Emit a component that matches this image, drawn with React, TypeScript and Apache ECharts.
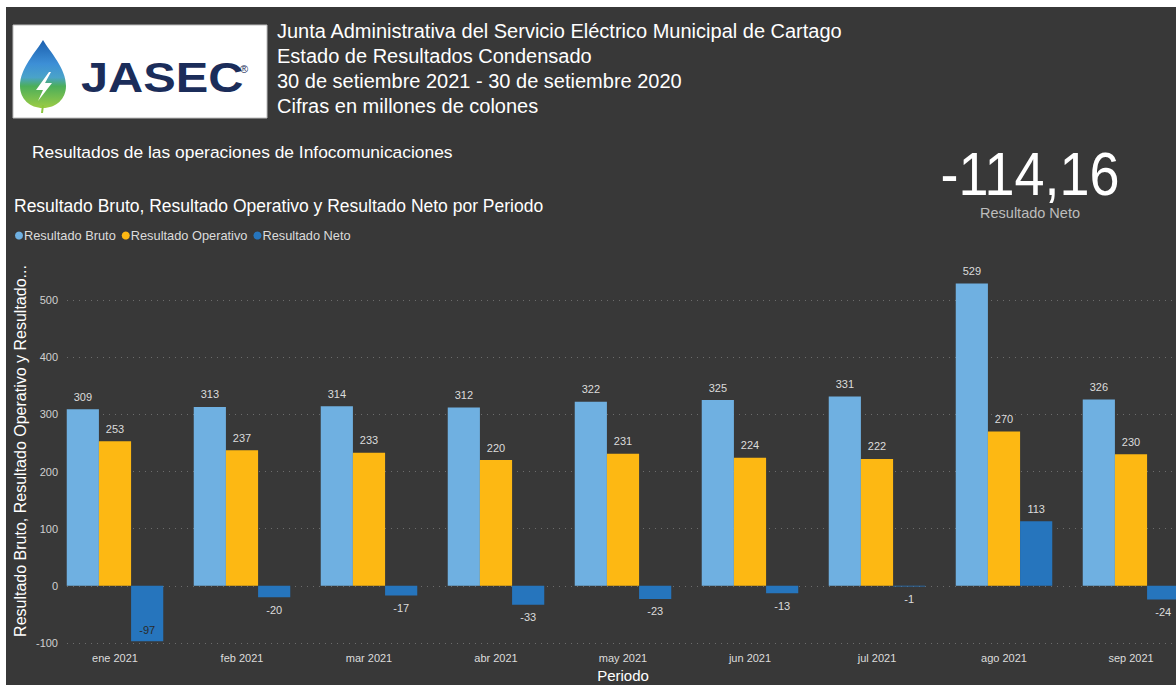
import React, { useEffect, useRef } from "react";
import * as echarts from "echarts";

const categories = ["ene 2021", "feb 2021", "mar 2021", "abr 2021", "may 2021", "jun 2021", "jul 2021", "ago 2021", "sep 2021"];
const bruto = [309, 313, 314, 312, 322, 325, 331, 529, 326];
const operativo = [253, 237, 233, 220, 231, 224, 222, 270, 230];
const neto = [-97, -20, -17, -33, -23, -13, -1, 113, -24];
const seriesNames = ["Resultado Bruto", "Resultado Operativo", "Resultado Neto"];
const yTicks = { min: -100, max: 500, interval: 100 };
const headerLines = [
  "Junta Administrativa del Servicio Eléctrico Municipal de Cartago",
  "Estado de Resultados Condensado",
  "30 de setiembre 2021 - 30 de setiembre 2020",
  "Cifras en millones de colones",
];
const kpiValue = "-114,16";
const kpiLabel = "Resultado Neto";

const FONT = "'Liberation Sans', Arial, sans-serif";
const BG = "#383838";
const COLORS = ["#6FB0E1", "#FDB813", "#2675BD"];

echarts.graphic.registerShape(
  "drop",
  echarts.graphic.extendPath(
    "M43 40 C36 52 20 68 20 86 C20 99 30 108 43 108 C56 108 66 99 66 86 C66 68 50 52 43 40 Z",
    {}
  )
);

function labelFor(v: number) {
  if (v < -80) return { value: v, label: { position: "insideBottom", distance: 6, color: "#2a2a2a" } };
  if (v < 0) return { value: v, label: { position: "bottom", distance: 7 } };
  return v;
}

export default function App() {
  const ref = useRef<HTMLDivElement>(null);
  useEffect(() => {
    if (!ref.current) return;
    const chart = echarts.init(ref.current, null, { renderer: "svg" });
    const label = { show: true, position: "top", distance: 7, color: "#dcdcdc", fontSize: 11, fontFamily: FONT };
    const option: any = {
      animation: false,
      backgroundColor: BG,
      textStyle: { fontFamily: FONT },
      color: COLORS,
      legend: {
        left: 15,
        top: 229,
        icon: "circle",
        itemWidth: 8,
        itemHeight: 8,
        itemGap: 6,
        padding: 0,
        textStyle: { color: "#dcdcdc", fontSize: 12.8, fontFamily: FONT, padding: [0, 0, 0, -4] },
        data: seriesNames,
      },
      grid: [
        { left: 51.5, right: -18.5, top: 300, bottom: 42, outerBoundsMode: "none", containLabel: false },
        { left: 67, right: 0, top: 300, bottom: 42, outerBoundsMode: "none", containLabel: false },
      ],
      xAxis: [
        {
          type: "category",
          gridIndex: 0,
          data: categories,
          axisLine: { show: false },
          axisTick: { show: false },
          axisLabel: { color: "#dcdcdc", fontSize: 11, margin: 9, fontFamily: FONT },
          name: "Periodo",
          nameLocation: "middle",
          nameGap: 19,
          nameTextStyle: { color: "#ffffff", fontSize: 15, fontFamily: FONT },
        },
        { type: "value", gridIndex: 1, min: 0, max: 1, show: false },
      ],
      yAxis: [
        { type: "value", gridIndex: 0, min: yTicks.min, max: yTicks.max, interval: yTicks.interval, show: false },
        {
          type: "value",
          gridIndex: 1,
          min: yTicks.min,
          max: yTicks.max,
          interval: yTicks.interval,
          axisLine: { show: false },
          axisTick: { show: false },
          axisLabel: { color: "#d0d0d0", fontSize: 11, margin: 9, fontFamily: FONT },
          splitLine: { lineStyle: { color: "#6c6c6c", type: [1, 5], width: 1 } },
        },
      ],
      series: [
        {
          name: seriesNames[0],
          type: "bar",
          xAxisIndex: 0,
          yAxisIndex: 0,
          data: bruto,
          barGap: "0%",
          barCategoryGap: "24%",
          clip: false,
          label,
        },
        {
          name: seriesNames[1],
          type: "bar",
          xAxisIndex: 0,
          yAxisIndex: 0,
          data: operativo,
          barGap: "0%",
          barCategoryGap: "24%",
          clip: false,
          label,
        },
        {
          name: seriesNames[2],
          type: "bar",
          xAxisIndex: 0,
          yAxisIndex: 0,
          data: neto.map(labelFor),
          barGap: "0%",
          barCategoryGap: "24%",
          clip: false,
          label,
        },
      ],
      graphic: [
        { type: "rect", shape: { x: 0, y: 0, width: 1176, height: 7 }, style: { fill: "#ffffff" }, z: 100 },
        { type: "rect", shape: { x: 0, y: 0, width: 6, height: 685 }, style: { fill: "#ffffff" }, z: 100 },
        { type: "rect", shape: { x: 13, y: 25, width: 254, height: 93 }, style: { fill: "#ffffff", stroke: "#bdbdbd", lineWidth: 1 } },
        {
          type: "drop",
          x: 0,
          y: 0,
          style: {
            fill: new echarts.graphic.LinearGradient(0, 0, 0, 1, [
              { offset: 0, color: "#1b5fae" },
              { offset: 0.35, color: "#3d8fd6" },
              { offset: 0.55, color: "#4aa3c9" },
              { offset: 0.68, color: "#4cae5a" },
              { offset: 1, color: "#9ccc45" },
            ]),
          },
        },
        { type: "line", shape: { x1: 43, y1: 105, x2: 42, y2: 113 }, style: { stroke: "#8cc63f", lineWidth: 2 } },
        {
          type: "polygon",
          shape: { points: [[49, 72], [36, 90], [43, 90], [38, 101], [52, 83], [45, 83], [51, 72]] },
          style: { fill: "#ffffff" },
        },
        {
          type: "text",
          x: 81,
          y: 78,
          scaleX: 1.16,
          style: { text: "JASEC", x: 0, y: 0, fill: "#1b2d5a", font: `bold 42px ${FONT}`, textVerticalAlign: "middle" },
        },
        {
          type: "text",
          x: 244,
          y: 69,
          style: { text: "®", fill: "#1b2d5a", font: `11px ${FONT}`, textAlign: "center", textVerticalAlign: "middle" },
        },
        ...headerLines.map((t, i) => ({
          type: "text",
          x: 277,
          y: 31 + i * 25,
          style: { text: t, fill: "#ffffff", font: `20px ${FONT}`, textVerticalAlign: "middle" },
        })),
        {
          type: "text",
          x: 32,
          y: 152,
          style: { text: "Resultados de las operaciones de Infocomunicaciones", fill: "#ffffff", font: `17.4px ${FONT}`, textVerticalAlign: "middle" },
        },
        {
          type: "text",
          x: 14,
          y: 206,
          style: { text: "Resultado Bruto, Resultado Operativo y Resultado Neto por Periodo", fill: "#ffffff", font: `17.5px ${FONT}`, textVerticalAlign: "middle" },
        },
        {
          type: "text",
          x: 1030,
          y: 173,
          scaleX: 0.87,
          style: { text: kpiValue, fill: "#ffffff", font: `62px ${FONT}`, textAlign: "center", textVerticalAlign: "middle" },
        },
        {
          type: "text",
          x: 1030,
          y: 213,
          style: { text: kpiLabel, fill: "#bdbdbd", font: `14.5px ${FONT}`, textAlign: "center", textVerticalAlign: "middle" },
        },
        {
          type: "text",
          x: 20,
          y: 451,
          rotation: Math.PI / 2,
          style: {
            text: "Resultado Bruto, Resultado Operativo y Resultado...",
            fill: "#ffffff",
            font: `16px ${FONT}`,
            textAlign: "center",
            textVerticalAlign: "middle",
          },
        },
      ],
    };
    chart.setOption(option);
    return () => chart.dispose();
  }, []);
  return <div ref={ref} style={{ position: "fixed", left: 0, top: 0, width: 1176, height: 685 }} />;
}
